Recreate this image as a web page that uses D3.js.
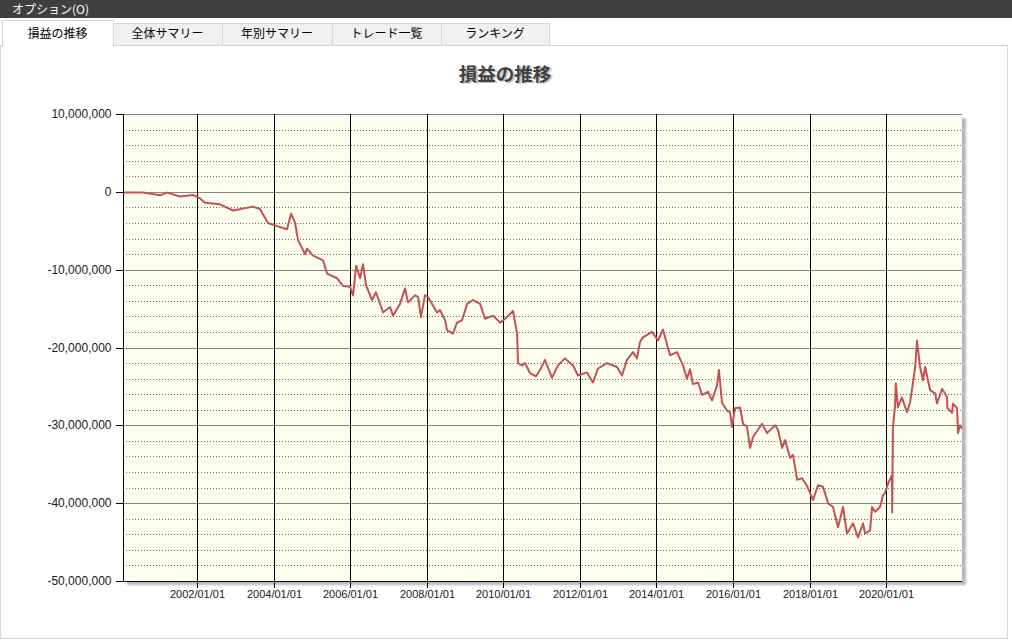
<!DOCTYPE html>
<html><head><meta charset="utf-8">
<script src="https://cdn.jsdelivr.net/npm/d3@7"></script>
<style>
html,body{margin:0;padding:0;background:#fff;}
svg{display:block;}
</style></head>
<body>
<svg id="chart" width="1012" height="644"></svg>
<script>
// ---- data ----
const chartTitle = "損益の推移";
const menuLabel = "オプション(O)";
const tabs = ["損益の推移", "全体サマリー", "年別サマリー", "トレード一覧", "ランキング"];
const yTicks = [10000000, 0, -10000000, -20000000, -30000000, -40000000, -50000000];
const xTickYears = [2002, 2004, 2006, 2008, 2010, 2012, 2014, 2016, 2018, 2020];
const dates = ["2000-01-25","2000-08-03","2001-01-13","2001-03-19","2001-07-22","2001-11-23","2002-01-29","2002-03-18","2002-08-08","2002-12-10",
"2003-06-19","2003-08-24","2003-11-08","2004-02-03","2004-05-08","2004-06-16","2004-07-24","2004-08-21","2004-10-27","2004-11-15",
"2005-01-12","2005-04-17","2005-05-25","2005-08-28","2005-10-24","2005-12-30","2006-01-28","2006-02-26","2006-04-05","2006-05-03",
"2006-06-01","2006-07-28","2006-09-04","2006-11-10","2007-01-16","2007-02-14","2007-04-21","2007-06-08","2007-07-06","2007-09-11",
"2007-10-10","2007-11-07","2007-12-15","2008-01-13","2008-04-08","2008-05-07","2008-06-24","2008-07-13","2008-09-08","2008-10-16",
"2008-12-03","2009-01-20","2009-03-18","2009-05-24","2009-07-10","2009-09-25","2009-12-01","2010-01-18","2010-04-04","2010-04-23",
"2010-05-12","2010-05-21","2010-06-29","2010-07-27","2010-09-13","2010-11-08","2010-12-16","2011-02-02","2011-04-10","2011-06-06",
"2011-08-12","2011-10-27","2011-12-14","2012-03-09","2012-05-05","2012-06-22","2012-09-16","2012-12-20","2013-02-06","2013-03-25",
"2013-05-22","2013-06-29","2013-07-28","2013-08-25","2013-11-19","2014-01-16","2014-03-04","2014-04-21","2014-05-10","2014-07-16",
"2014-09-11","2014-10-19","2014-11-17","2014-12-15","2015-02-02","2015-03-11","2015-05-08","2015-06-15","2015-08-01","2015-08-20",
"2015-09-18","2015-11-05","2015-12-04","2015-12-23","2016-01-20","2016-03-08","2016-04-06","2016-05-14","2016-06-12","2016-07-10",
"2016-10-04","2016-11-21","2017-02-06","2017-03-06","2017-04-14","2017-05-12","2017-06-29","2017-07-27","2017-09-04","2017-10-21",
"2017-12-08","2018-02-03","2018-03-22","2018-05-09","2018-06-26","2018-08-12","2018-09-29","2018-11-16","2018-12-24","2019-02-19",
"2019-04-08","2019-05-26","2019-06-14","2019-08-01","2019-08-20","2019-09-18","2019-11-04","2019-12-02","2019-12-21","2020-01-19",
"2020-02-26","2020-02-28","2020-03-06","2020-03-25","2020-04-03","2020-04-22","2020-05-30","2020-07-18","2020-08-16","2020-10-03",
"2020-10-22","2020-11-20","2020-12-18","2021-01-07","2021-02-24","2021-04-13","2021-05-01","2021-06-18","2021-08-05","2021-08-08",
"2021-09-22","2021-10-01","2021-11-08","2021-11-17","2021-12-06","2021-12-25"];
// profit in millions of yen
const profitM = [-0.1,-0.1,-0.45,-0.1,-0.6,-0.4,-0.85,-1.4,-1.6,-2.4,
-1.9,-2.2,-4.0,-4.4,-4.8,-2.8,-4.0,-6.2,-8.0,-7.3,
-8.2,-8.8,-10.5,-11.1,-12.1,-12.2,-13.3,-9.5,-11.1,-9.3,
-12.0,-13.9,-12.9,-15.5,-14.8,-15.9,-14.4,-12.4,-14.2,-13.3,
-13.5,-16.1,-13.3,-13.5,-15.5,-15.2,-16.5,-17.8,-18.2,-16.8,
-16.5,-14.4,-13.9,-14.4,-16.3,-15.9,-16.8,-16.3,-15.3,-16.8,
-18.2,-22.0,-22.3,-22.0,-23.3,-23.7,-22.9,-21.6,-23.9,-22.3,
-21.4,-22.3,-23.6,-23.2,-24.5,-22.7,-22.0,-22.5,-23.6,-21.6,
-20.6,-21.4,-19.3,-18.7,-18.0,-19.1,-17.7,-20.1,-21.0,-20.6,
-22.3,-24.0,-22.8,-24.7,-24.5,-26.1,-25.7,-26.8,-24.9,-22.9,
-27.1,-28.1,-28.3,-30.2,-27.8,-27.7,-29.8,-30.2,-32.9,-31.5,
-29.8,-31.0,-30.0,-30.6,-32.9,-31.9,-34.2,-33.8,-37.0,-36.8,
-37.8,-39.6,-37.7,-37.9,-40.0,-40.5,-43.1,-40.5,-43.9,-42.6,
-44.4,-42.6,-43.9,-43.5,-40.5,-41.1,-40.5,-39.0,-38.7,-37.5,
-36.4,-41.2,-30.3,-27.7,-24.6,-27.7,-26.4,-28.3,-27.1,-22.7,
-19.1,-22.5,-24.2,-22.5,-25.5,-25.9,-27.2,-25.3,-26.4,-27.8,
-28.4,-27.2,-27.8,-31.0,-30.0,-30.4];

// ---- drawing ----
(function draw() {
const svg = d3.select("#chart");
const W = 1012, H = 644;
const parse = d3.timeParse("%Y-%m-%d");
const data = dates.map((d, i) => ({date: parse(d), value: profitM[i] * 1e6}));

const jpFont = "'Noto Sans CJK JP', 'Noto Sans', sans-serif";
const numFont = "'Liberation Sans', Arial, sans-serif";
const numLocale = d3.formatLocale({decimal: ".", thousands: ",", grouping: [3], currency: ["", ""], minus: "-"});

// top menu bar
svg.append("rect").attr("x", 0).attr("y", 0).attr("width", W).attr("height", 18).attr("fill", "#3f3f3f");
svg.append("text").attr("x", 12).attr("y", 13.5).attr("fill", "#fff")
  .attr("font-family", jpFont).attr("font-size", 12).text(menuLabel);

// content panel
svg.append("rect").attr("x", 0.5).attr("y", 45.5).attr("width", 1007).attr("height", 593)
  .attr("fill", "#fff").attr("stroke", "#d6d6d6");

// tabs
const tabEdges = [2, 113, 222, 332, 441, 549];
tabs.forEach((t, i) => {
  const active = i === 0;
  const x0 = tabEdges[i], x1 = tabEdges[i + 1];
  const y0 = active ? 20 : 23;
  const g = svg.append("g");
  g.append("rect").attr("x", x0 + 0.5).attr("y", y0 + 0.5)
    .attr("width", x1 - x0).attr("height", (active ? 46 : 45) - y0)
    .attr("fill", active ? "#fff" : "#f0f0f0").attr("stroke", "#d6d6d6");
  if (active) {
    g.append("rect").attr("x", x0 + 1).attr("y", 44).attr("width", x1 - x0 - 1).attr("height", 3).attr("fill", "#fff");
  }
  g.append("text").attr("x", (x0 + x1) / 2).attr("y", 38).attr("text-anchor", "middle")
    .attr("font-family", jpFont).attr("font-size", 12).attr("fill", "#000").text(t);
});

// title
svg.append("text").attr("x", 507).attr("y", 82).attr("text-anchor", "middle")
  .attr("font-family", jpFont).attr("font-weight", "bold").attr("font-size", 18.5)
  .attr("fill", "#c4c4c4").text(chartTitle);
svg.append("text").attr("x", 505).attr("y", 80.5).attr("text-anchor", "middle")
  .attr("font-family", jpFont).attr("font-weight", "bold").attr("font-size", 18.5)
  .attr("fill", "#404040").text(chartTitle);

// scales
const pL = 123, pR = 962, pT = 114, pB = 581;
const x = d3.scaleTime().domain(d3.extent(data, d => d.date)).range([pL, pR]);
const y = d3.scaleLinear().domain([-50000000, 10000000]).range([pB, pT]);

// shadow + background
const defs = svg.append("defs");
const f = defs.append("filter").attr("id", "blur").attr("x", "-5%").attr("y", "-5%").attr("width", "110%").attr("height", "110%");
f.append("feGaussianBlur").attr("stdDeviation", 1.2);
svg.append("rect").attr("x", pL + 4).attr("y", pT + 4).attr("width", pR - pL).attr("height", pB - pT)
  .attr("fill", "#b8b8b8").attr("filter", "url(#blur)");
svg.append("rect").attr("x", pL).attr("y", pT).attr("width", pR - pL).attr("height", pB - pT)
  .attr("fill", "#fffff0");

// minor dotted gridlines every 2,000,000
const minor = d3.range(-48000000, 10000000, 2000000).filter(v => v % 10000000 !== 0);
svg.append("g").selectAll("line").data(minor).join("line")
  .attr("x1", pL).attr("x2", pR)
  .attr("y1", d => Math.round(y(d)) + 0.5).attr("y2", d => Math.round(y(d)) + 0.5)
  .attr("stroke", "#6a6a6a").attr("stroke-dasharray", "1,2").attr("shape-rendering", "crispEdges");

// major horizontal gridlines
svg.append("g").selectAll("line").data(yTicks).join("line")
  .attr("x1", pL).attr("x2", pR)
  .attr("y1", d => Math.round(y(d)) + 0.5).attr("y2", d => Math.round(y(d)) + 0.5)
  .attr("stroke", "#858585").attr("shape-rendering", "crispEdges");

// vertical gridlines
const xTickDates = xTickYears.map(yr => new Date(yr, 0, 1));
svg.append("g").selectAll("line").data(xTickDates).join("line")
  .attr("x1", d => Math.round(x(d)) + 0.5).attr("x2", d => Math.round(x(d)) + 0.5)
  .attr("y1", pT).attr("y2", pB)
  .attr("stroke", "#000").attr("shape-rendering", "crispEdges");

// line
const line = d3.line().x(d => x(d.date)).y(d => y(d.value));
svg.append("path").datum(data).attr("d", line)
  .attr("fill", "none").attr("stroke", "#c45252").attr("stroke-width", 2).attr("stroke-linejoin", "round");

// axes
const yAxis = d3.axisLeft(y).tickValues(yTicks).tickSize(8).tickPadding(4)
  .tickFormat(numLocale.format(","));
const gy = svg.append("g").attr("transform", `translate(${pL + 0.5},0)`).call(yAxis);
gy.select(".domain").attr("stroke", "#000").attr("d", `M0,${pT}V${pB + 0.5}`);
gy.selectAll(".tick line").attr("stroke", "#000").attr("shape-rendering", "crispEdges");
gy.selectAll(".tick text").attr("font-family", numFont).attr("font-size", 12).attr("fill", "#1a1a1a");
gy.selectAll(".tick").attr("transform", d => `translate(0,${Math.round(y(d)) + 0.5})`);

const xAxis = d3.axisBottom(x).tickValues(xTickDates).tickSize(6).tickPadding(3)
  .tickFormat(d3.timeFormat("%Y/%m/%d"));
const gx = svg.append("g").attr("transform", `translate(0,${pB + 0.5})`).call(xAxis);
gx.select(".domain").attr("stroke", "#000").attr("d", `M${pL},0H${pR}`);
gx.selectAll(".tick line").attr("stroke", "#000").attr("shape-rendering", "crispEdges");
gx.selectAll(".tick").attr("transform", d => `translate(${Math.round(x(d)) + 0.5},0)`);
gx.selectAll(".tick text").attr("font-family", numFont).attr("font-size", 11).attr("fill", "#1a1a1a");
})();
</script>
</body></html>
